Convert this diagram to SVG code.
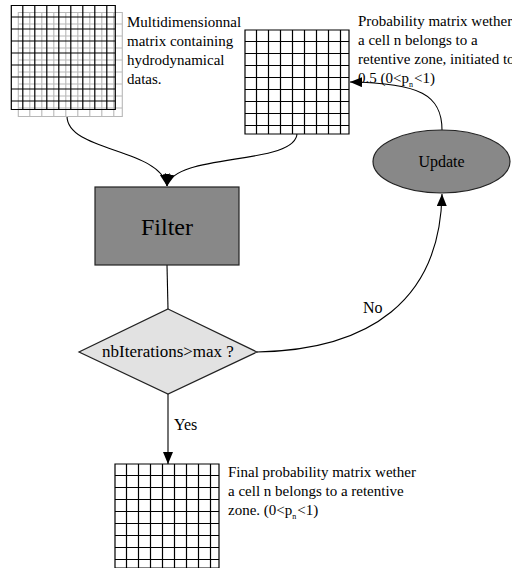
<svg xmlns="http://www.w3.org/2000/svg" xmlns:xlink="http://www.w3.org/1999/xlink" width="512" height="568" viewBox="0 0 512 568">
  <style>
    text { font-family: "Liberation Serif", "Times New Roman", serif; fill: #000; }
    .note { font-size: 15px; }
    .sub { font-size: 8px; }
    .grid { fill: #fff; stroke: #000; stroke-width: 1.2; }
    .grid-back { fill: none; stroke: #b8b8b8; stroke-width: 1.1; }
    .edge { fill: none; stroke: #000; stroke-width: 1.1; }
    .block { fill: #888888; stroke: #222; stroke-width: 1.2; }
    .decision { fill: #e2e2e2; stroke: #222; stroke-width: 1.2; }
  </style>
  <defs>
    <marker id="arrow" markerUnits="userSpaceOnUse" markerWidth="13" markerHeight="11" refX="12" refY="5" orient="auto">
      <path d="M0,0 L12,5 L0,10 z" fill="#000"/>
    </marker>
    <!-- 9x9 cell matrix, 104 px square -->
    <path id="cells" d="M0,0 H104 V104 H0 Z
      M11.5,0 V104 M23.5,0 V104 M35.5,0 V104 M47.5,0 V104 M59.5,0 V104 M71.5,0 V104 M83.5,0 V104 M95.5,0 V104
      M0,11.5 H104 M0,23.5 H104 M0,35.5 H104 M0,47.5 H104 M0,59.5 H104 M0,71.5 H104 M0,83.5 H104 M0,95.5 H104"/>
  </defs>

  <!-- connectors -->
  <g id="connectors">
    <path class="edge" d="M67,116 C67,152 160,148 167,186" marker-end="url(#arrow)"/>
    <path class="edge" d="M297,133 C297,166 175,152 167,186" marker-end="url(#arrow)"/>
    <path class="edge" d="M167,265 L168,309"/>
    <path class="edge" d="M168,394 L168,464" marker-end="url(#arrow)"/>
    <path class="edge" d="M257,352 C370,350 440,300 442,194" marker-end="url(#arrow)"/>
    <path class="edge" d="M442,130 C442,95 420,83 350,82" marker-end="url(#arrow)"/>
    <text x="174" y="430" style="font-size:16px">Yes</text>
    <text x="363" y="313" style="font-size:16px">No</text>
  </g>

  <!-- input data: stacked matrices -->
  <g id="data-matrix">
    <use xlink:href="#cells" href="#cells" class="grid-back" transform="translate(18.3,12.5)"/>
    <use xlink:href="#cells" href="#cells" style="fill:none;stroke:#000;stroke-width:1.2" transform="translate(11.3,5.5)"/>
    <text class="note" x="127" y="27">Multidimensionnal</text>
    <text class="note" x="127" y="46">matrix containing</text>
    <text class="note" x="127" y="65">hydrodynamical</text>
    <text class="note" x="127" y="84">datas.</text>
  </g>

  <!-- probability matrix -->
  <g id="prob-matrix">
    <use xlink:href="#cells" href="#cells" class="grid" transform="translate(245,30)"/>
    <text class="note" x="358" y="26">Probability matrix wether</text>
    <text class="note" x="358" y="45">a cell n belongs to a</text>
    <text class="note" x="358" y="64">retentive zone, initiated to</text>
    <text class="note" x="358" y="83">0.5 (0&lt;p<tspan class="sub" dy="4">n</tspan><tspan dy="-4" dx="1">&lt;1)</tspan></text>
  </g>

  <!-- filter -->
  <g id="filter">
    <rect class="block" x="95" y="187" width="144" height="78"/>
    <text x="167" y="235" text-anchor="middle" style="font-size:24px">Filter</text>
  </g>

  <!-- stop test -->
  <g id="test">
    <polygon class="decision" points="168,309 257,352 168,394 79,352"/>
    <text x="168" y="357" text-anchor="middle" style="font-size:17px">nbIterations&gt;max ?</text>
  </g>

  <!-- update -->
  <g id="update">
    <ellipse class="block" cx="441.5" cy="161.5" rx="68.5" ry="31.5"/>
    <text x="441.5" y="167" text-anchor="middle" style="font-size:16px">Update</text>
  </g>

  <!-- result matrix -->
  <g id="final-matrix">
    <use xlink:href="#cells" href="#cells" class="grid" transform="translate(115,464)"/>
    <text class="note" x="228" y="477">Final probability matrix wether</text>
    <text class="note" x="228" y="496">a cell n belongs to a retentive</text>
    <text class="note" x="228" y="515">zone. (0&lt;p<tspan class="sub" dy="4">n</tspan><tspan dy="-4" dx="1">&lt;1)</tspan></text>
  </g>
</svg>
